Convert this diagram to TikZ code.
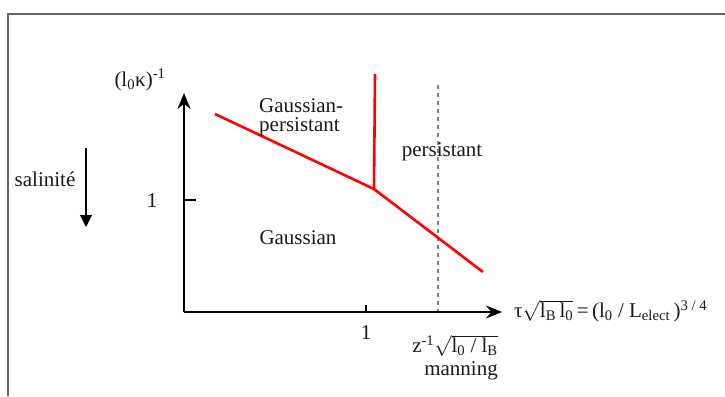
\documentclass[tikz,border=0pt]{standalone}
\usepackage{fontspec}
\setmainfont{Liberation Serif}
\usetikzlibrary{arrows.meta,positioning}

\begin{document}
\begin{tikzpicture}[x=1pt,y=-1pt,
    lbl/.style={font=\fontsize{21}{19}\selectfont, inner sep=0pt, text=black!90},
    axe/.style={line width=2.4pt, -{Stealth[length=16pt,width=13pt]}},
    frontiere/.style={red, line width=2.6pt}]
    \useasboundingbox (0,0) rectangle (725,396);

    % Frame of the figure
    \draw[gray!80!black, line width=2.2pt] (8,396) -- (8,14) -- (725,14);

    % Define the axes
    \coordinate[] (O) at (184,312);
    \coordinate[] (Y) at (184,93);
    \coordinate[] (X) at (502,312);

    % Dashed line of manning
    \coordinate[] (D1) at (438,85);
    \coordinate[] (D2) at (438,312);
    \draw[gray, line width=1.2pt, dash pattern=on 4pt off 4pt] (D1) -- (D2);

    % Draw the axes and the ticks
    \draw[axe] (O) -- (Y);
    \draw[axe] (O) -- (X);
    \coordinate[] (TY) at (184,200);
    \coordinate[] (TX) at (366,312);
    \draw[line width=2pt] (TY) -- ++(12,0);
    \draw[line width=2pt] (TX) -- ++(0,-7);

    % Define and draw the red boundaries
    \coordinate[] (P1) at (215,114);
    \coordinate[] (J) at (374,189);
    \coordinate[] (P2) at (483,272);
    \coordinate[] (T) at (375,74);
    \draw[frontiere, line join=round] (P1) -- (J) -- (P2);
    \draw[frontiere] (J) -- (T);

    % Labels of the axes
    \node[lbl] (yl) at (140,80) {(l\textsubscript{0}κ)\textsuperscript{-1}};
    \node[lbl] (uny) at (152,201) {1};
    \node[lbl] (unx) at (366,333) {1};
    \node[lbl] (zl) at (455,346) {z\textsuperscript{-1}$\sqrt{\mbox{l\textsubscript{0} / l\textsubscript{B}}}$};
    \node[lbl, below=4pt of zl.south east, anchor=north east] (mann) {manning};
    \node[lbl, anchor=west] (xl) at (514,311) {τ$\sqrt{\mbox{l\textsubscript{B}\,l\textsubscript{0}}}$\,=\,(l\textsubscript{0} / L\textsubscript{elect}\,)\textsuperscript{3 / 4}};

    % Labels of the regimes
    \node[lbl, anchor=west, align=left] (gp) at (259,117) {Gaussian-\\persistant};
    \node[lbl] (pers) at (442,152) {persistant};
    \node[lbl] (gau) at (298,238) {Gaussian};

    % Salinity arrow
    \node[lbl] (sal) at (45,179) {salinité};
    \coordinate[] (S1) at (86,148);
    \coordinate[] (S2) at (86,227);
    \draw[line width=1.2pt, -{Triangle[length=12pt,width=12pt]}] (S1) -- (S2);
\end{tikzpicture}
\end{document}
